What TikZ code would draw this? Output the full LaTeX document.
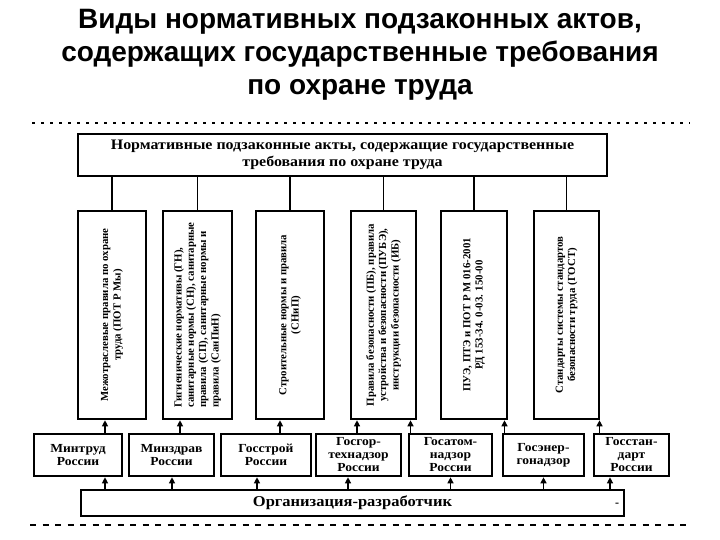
\documentclass[tikz,border=0pt]{standalone}
\usepackage{fontspec}
\setmainfont{Liberation Serif}
\newfontfamily\titlefont{Liberation Sans}
\newfontfamily\wideserif[FakeStretch=1.1]{Liberation Serif}
\usetikzlibrary{arrows.meta}
\begin{document}
\begin{tikzpicture}[x=1pt,y=-1pt,
  box/.style={draw, line width=2.6pt, inner sep=0pt},
  conn/.style={line width=1.2pt},
  arr/.style={line width=1.2pt, -{Triangle[width=6pt,length=6pt]}},
  vtxt/.style={rotate=90, font=\fontsize{10.8}{12.3}\selectfont\bfseries, align=center, inner sep=0pt},
  mbox/.style={box, minimum height=42pt, font=\wideserif\fontsize{12.3}{13}\selectfont\bfseries, align=center},
  vbox/.style={box, minimum height=208pt},
]
\useasboundingbox (0,0) rectangle (720,540);

% title
\node[font=\titlefont\fontsize{28}{33}\selectfont\bfseries, align=center] (title) at (360,55)
  {Виды нормативных подзаконных актов,\\содержащих государственные требования\\по охране труда};

% dotted lines
\coordinate (d1) at (32,123);
\coordinate (d2) at (690,123);
\draw[line width=1.5pt, dash pattern=on 3pt off 6pt] (d1) -- (d2);
\coordinate (e1) at (30,525);
\coordinate (e2) at (690,525);
\draw[line width=1.2pt, dash pattern=on 6pt off 6.5pt] (e1) -- (e2);

% top box
\node[box, minimum width=529pt, minimum height=42pt, font=\wideserif\fontsize{14.5}{16.5}\selectfont\bfseries, align=center] (top) at (342.5,155)
  {Нормативные подзаконные акты, содержащие государственные\\требования по охране труда};

% vertical boxes
\node[vbox, minimum width=68pt] (vb1) at (112,315) {};
\node[vbox, minimum width=69pt] (vb2) at (197.5,315) {};
\node[vbox, minimum width=68pt] (vb3) at (290,315) {};
\node[vbox, minimum width=65pt] (vb4) at (383.5,315) {};
\node[vbox, minimum width=66pt] (vb5) at (474,315) {};
\node[vbox, minimum width=65pt] (vb6) at (566.5,315) {};

\node[vtxt] (vb1t) at (vb1.center) {Межотраслевые правила по охране\\труда (ПОТ Р Мы)};
\node[vtxt, align=left] (vb2t) at (vb2.center) {Гигиенические нормативы (ГН),\\санитарные нормы (СН), санитарные\\правила (СП), санитарные нормы и\\правила (СанПиН)};
\node[vtxt] (vb3t) at (vb3.center) {Строительные нормы и правила\\(СНиП)};
\node[vtxt] (vb4t) at (vb4.center) {Правила безопасности (ПБ), правила\\устройства и безопасности (ПУБЭ),\\инструкции безопасности (ИБ)};
\node[vtxt] (vb5t) at (vb5.center) {ПУЭ, ПТЭ и ПОТ Р М 016-2001\\РД 153-34. 0-03. 150-00};
\node[vtxt] (vb6t) at (vb6.center) {Стандарты системы стандартов\\безопасности труда (ГОСТ)};

% connectors top -> vertical boxes
\foreach \v in {vb1,vb2,vb3,vb4,vb5,vb6}
  \draw[conn] (\v.north |- top.south) -- (\v.north);

% middle boxes
\node[mbox, minimum width=88pt] (m1) at (78,455) {Минтруд\\России};
\node[mbox, minimum width=85pt] (m2) at (171.5,455) {Минздрав\\России};
\node[mbox, minimum width=90pt] (m3) at (266,455) {Госстрой\\России};
\node[mbox, minimum width=85pt] (m4) at (358.5,455) {Госгор-\\технадзор\\России};
\node[mbox, minimum width=83pt] (m5) at (450.5,455) {Госатом-\\надзор\\России};
\node[mbox, minimum width=81pt] (m6) at (543.5,455) {Госэнер-\\гонадзор};
\node[mbox, minimum width=75pt] (m7) at (631.5,455) {Госстан-\\дарт\\России};

% arrows middle -> vertical boxes
\draw[arr] ([xshift=27pt]m1.north) -- ([xshift=27pt]m1.north |- vb1.south);
\draw[arr] ([xshift=8.5pt]m2.north) -- ([xshift=8.5pt]m2.north |- vb2.south);
\draw[arr] ([xshift=14pt]m3.north) -- ([xshift=14pt]m3.north |- vb3.south);
\draw[arr] ([xshift=-1.5pt]m4.north) -- ([xshift=-1.5pt]m4.north |- vb4.south);
\draw[arr] ([xshift=-40pt]m5.north) -- ([xshift=-40pt]m5.north |- vb4.south);
\draw[arr] ([xshift=-39pt]m6.north) -- ([xshift=-39pt]m6.north |- vb5.south);
\draw[arr] ([xshift=-32pt]m7.north) -- ([xshift=-32pt]m7.north |- vb6.south);

% bottom box
\node[box, minimum width=543pt, minimum height=26pt, font=\wideserif\fontsize{15}{17}\selectfont\bfseries] (org) at (352.5,503) {Организация-разработчик};
\node[font=\bfseries\fontsize{12}{12}\selectfont, inner sep=0pt] (dash) at (617,505) {-};

% arrows bottom -> middle
\draw[arr] ([xshift=27pt]m1.south |- org.north) -- ([xshift=27pt]m1.south);
\draw[arr] ([xshift=0.5pt]m2.south |- org.north) -- ([xshift=0.5pt]m2.south);
\draw[arr] ([xshift=-9pt]m3.south |- org.north) -- ([xshift=-9pt]m3.south);
\draw[arr] ([xshift=-10.5pt]m4.south |- org.north) -- ([xshift=-10.5pt]m4.south);
\draw[arr] ([xshift=0pt]m5.south |- org.north) -- ([xshift=0pt]m5.south);
\draw[arr] ([xshift=0pt]m6.south |- org.north) -- ([xshift=0pt]m6.south);
\draw[arr] ([xshift=-21.5pt]m7.south |- org.north) -- ([xshift=-21.5pt]m7.south);
\end{tikzpicture}
\end{document}
